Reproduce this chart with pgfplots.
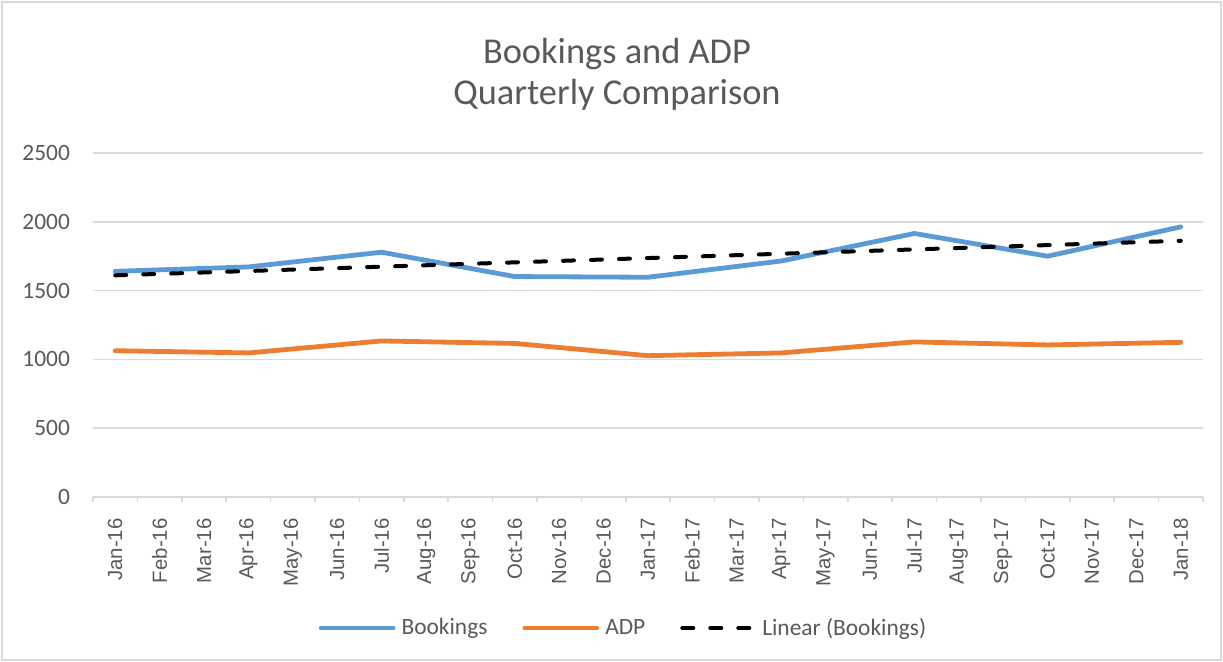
\documentclass[border=0pt]{standalone}
\usepackage{pgfplots}
\pgfplotsset{compat=1.18}
\usepackage{fontspec}
\setmainfont{Carlito}
\newfontfamily\arialfont{Liberation Sans}
\definecolor{bkblue}{HTML}{5B9BD5}
\definecolor{adporange}{HTML}{ED7D31}
\definecolor{gridgray}{HTML}{D9D9D9}
\definecolor{txtgray}{HTML}{595959}
\begin{document}
\begin{tikzpicture}
\useasboundingbox (-46.5pt,-82.5pt) rectangle (565pt,248.5pt);
\draw[gridgray, line width=0.6pt] (-45.5pt,-81.5pt) rectangle (564pt,247.5pt);
\begin{axis}[
  at={(0pt,0pt)}, anchor=south west,
  scale only axis, width=555pt, height=172pt,
  xmin=-0.5, xmax=24.5, ymin=0, ymax=2500,
  xtick={0,1,...,24},
  xticklabels={Jan-16,Feb-16,Mar-16,Apr-16,May-16,Jun-16,Jul-16,Aug-16,Sep-16,Oct-16,Nov-16,Dec-16,Jan-17,Feb-17,Mar-17,Apr-17,May-17,Jun-17,Jul-17,Aug-17,Sep-17,Oct-17,Nov-17,Dec-17,Jan-18},
  minor xtick={-0.5,0.5,...,24.5},
  ytick={0,500,1000,1500,2000,2500},
  axis lines=left,
  x axis line style={-, draw=gridgray, line width=0.75pt},
  y axis line style={draw=none},
  tick align=outside,
  major tick length=0pt,
  minor tick length=2.7pt,
  minor x tick style={draw=gridgray, line width=0.75pt},
  major x tick style={draw=none},
  major y tick style={draw=none},
  ymajorgrids,
  major grid style={draw=gridgray, line width=0.75pt},
  /pgf/number format/assume math mode=true,
  /pgf/number format/1000 sep={},
  tick label style={font=\fontsize{11.7}{13}\selectfont, text=txtgray},
  xticklabel style={font=\arialfont\fontsize{10.2}{12}\selectfont, rotate=90, anchor=east, inner sep=0pt},
  xticklabel shift=10.5pt,
  yticklabel style={anchor=east, xshift=-8pt},
  legend style={at={(0.477,-0.381)}, anchor=center, draw=none, fill=none,
    legend columns=3, font=\fontsize{11.7}{13}\selectfont, text=txtgray,
    nodes={inner sep=0pt},
    /tikz/every odd column/.append style={column sep=3pt},
    /tikz/every even column/.append style={column sep=17.5pt}},
  legend image code/.code={\draw[#1] (0pt,0pt) -- (36pt,0pt);},
  clip=false,
]
\addplot[bkblue, line width=2.4pt, line join=round, line cap=round] coordinates {
  (0,1640) (3,1672) (6,1779) (9,1602) (12,1597) (15,1715) (18,1915) (21,1750) (24,1963)};
\addlegendentry{Bookings}
\addplot[adporange, line width=2.4pt, line join=round, line cap=round] coordinates {
  (0,1063) (3,1047) (6,1134) (9,1116) (12,1027) (15,1047) (18,1127) (21,1105) (24,1124)};
\addlegendentry{ADP}
\addplot[black, line width=2pt, line cap=round, dash pattern=on 5.5pt off 8.5pt] coordinates {
  (0,1611) (24,1862)};
\addlegendentry{Linear (Bookings)}
\end{axis}
\node[anchor=base, font=\fontsize{18.2}{22}\selectfont, text=txtgray] at (262pt,216.8pt) {Bookings and ADP};
\node[anchor=base, font=\fontsize{18.2}{22}\selectfont, text=txtgray] at (262pt,196pt) {Quarterly Comparison};
\end{tikzpicture}
\end{document}
